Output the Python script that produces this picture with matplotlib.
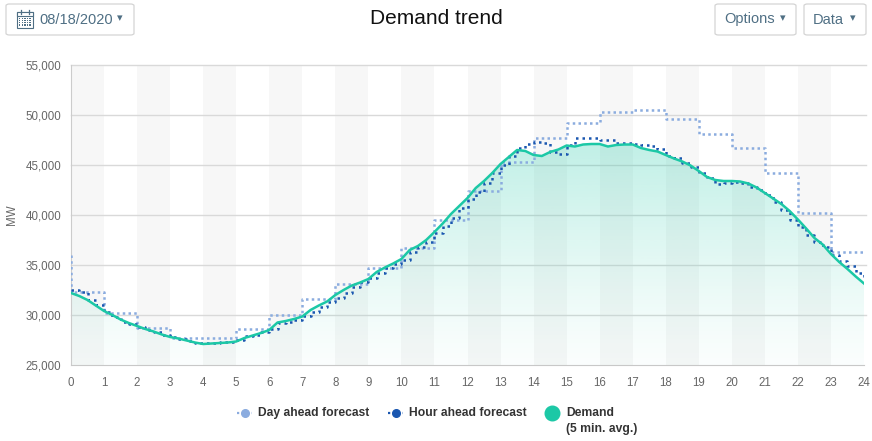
import numpy as np
import matplotlib
matplotlib.use("Agg")
import matplotlib.pyplot as plt
from matplotlib.patches import FancyBboxPatch, Rectangle
from matplotlib.lines import Line2D

plt.rcParams['font.family'] = ['Liberation Sans', 'DejaVu Sans']

# ---------------- data ----------------
hours = list(range(25))
hour_labels = [str(h) for h in hours]
y_ticks = [25000, 30000, 35000, 40000, 45000, 50000, 55000]
y_tick_labels = ["25,000", "30,000", "35,000", "40,000", "45,000", "50,000", "55,000"]

day_ahead_start = 36000
day_ahead = [32300, 30200, 28700, 27700, 27700, 28600, 30000, 31600, 33100, 34700,
             36700, 39500, 42400, 45300, 47700, 49200, 50300, 50500, 49600, 48100,
             46700, 44200, 40200, 36300]

quarter_hours = [i * 0.25 for i in range(97)]

hour_ahead = [32500, 32300, 31500, 31000, 30300, 29800, 29300, 29100,
              28800, 28500, 28300, 28000, 27800, 27600, 27400, 27200,
              27200, 27200, 27300, 27300, 27500, 27900, 28000, 28300,
              28600, 29200, 29300, 29500, 29900, 30300, 30800, 31300,
              31700, 32200, 32800, 33300, 33700, 34200, 34700, 35100,
              35500, 36300, 36800, 37300, 38200, 38900, 39700, 40700,
              41600, 42300, 43200, 44200, 45000, 45900, 46700, 47100,
              47300, 47200, 46300, 46100, 47000, 47700, 47700, 47700,
              47500, 47500, 47200, 47200, 47100, 47000, 46900, 46600,
              45900, 45700, 45200, 44800, 44200, 43700, 43100, 43200,
              43300, 43200, 42800, 42500, 42000, 41300, 40500, 39500,
              38800, 38000, 37300, 36800, 36000, 35400, 34900, 34200,
              33400]

demand = [32200, 31900, 31500, 30950, 30400, 30000, 29550, 29200,
          28900, 28600, 28350, 28050, 27800, 27650, 27450, 27250,
          27100, 27150, 27200, 27250, 27350, 27700, 27950, 28200,
          28500, 29250, 29400, 29600, 29850, 30500, 30950, 31350,
          32000, 32500, 32950, 33250, 33600, 34300, 34750, 35150,
          35600, 36500, 36900, 37500, 38300, 39150, 40100, 40900,
          41700, 42700, 43400, 44200, 45100, 45800, 46500, 46400,
          46000, 45900, 46300, 46550, 46950, 46850, 47050, 47100,
          47100, 46850, 47000, 47050, 47050, 46700, 46500, 46350,
          46000, 45650, 45350, 44950, 44400, 43800, 43500, 43400,
          43400, 43350, 43150, 42750, 42200, 41650, 41100, 40400,
          39550, 38650, 37700, 37050, 36100, 35300, 34600, 33850,
          33150]

# ---------------- styles ----------------
TEAL = "#1cc8a6"
DAY_C = "#8bacdf"
HOUR_C = "#1a57b0"
TXT = "#333333"
TICK_C = "#666666"
BTN_C = "#4f6f84"

W, H = 872, 441
fig = plt.figure(figsize=(W / 100, H / 100), dpi=100)
L, R, T, B = 71, 864, 65, 365
ax = fig.add_axes([L / W, 1 - B / H, (R - L) / W, (B - T) / H])
ax.set_xlim(0, 24)
ax.set_ylim(25000, 55000)

# alternating bands
for h in range(0, 24, 2):
    ax.axvspan(h, h + 1, color="#f7f7f7", zorder=0, lw=0)

# grid
for yv in y_ticks[1:]:
    ax.axhline(yv, color="#d9d9d9", lw=1, zorder=1, clip_on=False,
               xmin=0, xmax=1.003)
ax.set_yticks(y_ticks)
ax.set_yticklabels(y_tick_labels)
ax.set_xticks(hours)
ax.set_xticklabels(hour_labels)
ax.tick_params(length=0, colors=TICK_C, labelsize=8.3)
ax.tick_params(axis='y', pad=7)
ax.tick_params(axis='x', pad=9)
for s in ["top", "right"]:
    ax.spines[s].set_visible(False)
ax.spines["left"].set_color("#cccccc")
ax.spines["bottom"].set_color("#c8c8c8")

# demand gradient fill
poly = ax.fill_between(quarter_hours, demand, 25000, color="none", lw=0, zorder=2)
grad = np.linspace(0, 1, 256).reshape(-1, 1)
teal_rgb = np.array(matplotlib.colors.to_rgb(TEAL))
img = np.zeros((256, 1, 4))
img[..., :3] = teal_rgb
img[..., 3] = 0.02 + 0.26 * grad ** 1.2
im = ax.imshow(img, extent=[0, 24, 25000, 47500], origin="lower", aspect="auto",
               zorder=2, interpolation="bilinear")
path = poly.get_paths()[0]
im.set_clip_path(path, transform=ax.transData)
ax.set_xlim(0, 24)
ax.set_ylim(25000, 55000)

# day ahead step line
ax.step([0] + hours, [day_ahead_start] + day_ahead + [day_ahead[-1]], where="post",
        color=DAY_C, lw=1.8, ls=(0, (1, 1.3)), zorder=3)
# hour ahead
ax.step(quarter_hours, hour_ahead, where="post", color=HOUR_C, lw=1.8,
        ls=(0, (1, 1.6)), zorder=4)
# demand
ax.plot(quarter_hours, demand, color=TEAL, lw=1.8, zorder=5, solid_joinstyle="round")

# ---------------- title & buttons ----------------
def fx(px):
    return px / W

def fy(py):
    return 1 - py / H

fig.text(fx(12), fy(215), "MW", rotation=90, ha="center", va="center",
         fontsize=8.3, color=TICK_C)

fig.text(fx(436), fy(19), "Demand trend", ha="center", va="center",
         fontsize=15, color="#111111")

def button(x0, x1, label, text_x):
    box = FancyBboxPatch((fx(x0), fy(35)), fx(x1 - x0), (35 - 4) / H,
                         boxstyle="round,pad=0,rounding_size=0.004",
                         transform=fig.transFigure, facecolor="white",
                         edgecolor="#d4d4d4", lw=0.9)
    fig.patches.append(box)
    fig.text(fx(text_x), fy(19.5), label, ha="left", va="center",
             fontsize=10.5, color=BTN_C)

button(6, 134, "08/18/2020", 39)
fig.text(fx(120), fy(18.5), "\u25BE", ha="center", va="center", fontsize=8,
         color=BTN_C, family=["DejaVu Sans"])
button(715, 796, "Options", 724)
fig.text(fx(783), fy(18.5), "\u25BE", ha="center", va="center", fontsize=8,
         color=BTN_C, family=["DejaVu Sans"])
button(804, 866, "Data", 813)
fig.text(fx(853), fy(18.5), "\u25BE", ha="center", va="center", fontsize=8,
         color=BTN_C, family=["DejaVu Sans"])

# calendar icon
cx0, cy0, cw, ch = 17, 12, 16, 16
fig.patches.append(Rectangle((fx(cx0), fy(cy0 + ch)), cw / W, ch / H,
                             transform=fig.transFigure, facecolor="white",
                             edgecolor=BTN_C, lw=0.8))
fig.patches.append(Rectangle((fx(cx0), fy(cy0 + 4)), cw / W, 4 / H,
                             transform=fig.transFigure, facecolor="white",
                             edgecolor=BTN_C, lw=0.8))
for rx in (cx0 + 4, cx0 + 12):
    fig.lines.append(Line2D([fx(rx), fx(rx)], [fy(cy0 - 2), fy(cy0 + 2)],
                            transform=fig.transFigure, color=BTN_C, lw=0.9))
for r in range(4):
    for c in range(5):
        fig.patches.append(Rectangle((fx(cx0 + 2 + c * 2.6), fy(cy0 + 7 + r * 2.2)),
                                     1.3 / W, 1.2 / H, transform=fig.transFigure,
                                     facecolor=BTN_C, edgecolor="none"))

# ---------------- legend ----------------
ly = 413
def leg_line(x0, x1, color, lw):
    fig.lines.append(Line2D([fx(x0), fx(x1)], [fy(ly), fy(ly)], transform=fig.transFigure,
                            color=color, lw=lw, ls=(0, (1, 1.2))))
    fig.lines.append(Line2D([fx((x0 + x1) / 2)], [fy(ly)], transform=fig.transFigure,
                            color=color, marker="o", markersize=5.5, ls="none"))

leg_line(237, 252, DAY_C, 1.6)
fig.text(fx(258), fy(ly), "Day ahead forecast", ha="left", va="center",
         fontsize=8.7, fontweight="bold", color=TXT)
leg_line(388, 403, HOUR_C, 1.6)
fig.text(fx(409), fy(ly), "Hour ahead forecast", ha="left", va="center",
         fontsize=8.7, fontweight="bold", color=TXT)
fig.lines.append(Line2D([fx(552)], [fy(ly)], transform=fig.transFigure,
                        color=TEAL, marker="o", markersize=10.5, ls="none"))
fig.text(fx(566), fy(ly), "Demand", ha="left", va="center",
         fontsize=8.7, fontweight="bold", color=TXT)
fig.text(fx(566), fy(ly + 16), "(5 min. avg.)", ha="left", va="center",
         fontsize=8.7, fontweight="bold", color=TXT)

fig.savefig("out.png", dpi=100, facecolor="white")
